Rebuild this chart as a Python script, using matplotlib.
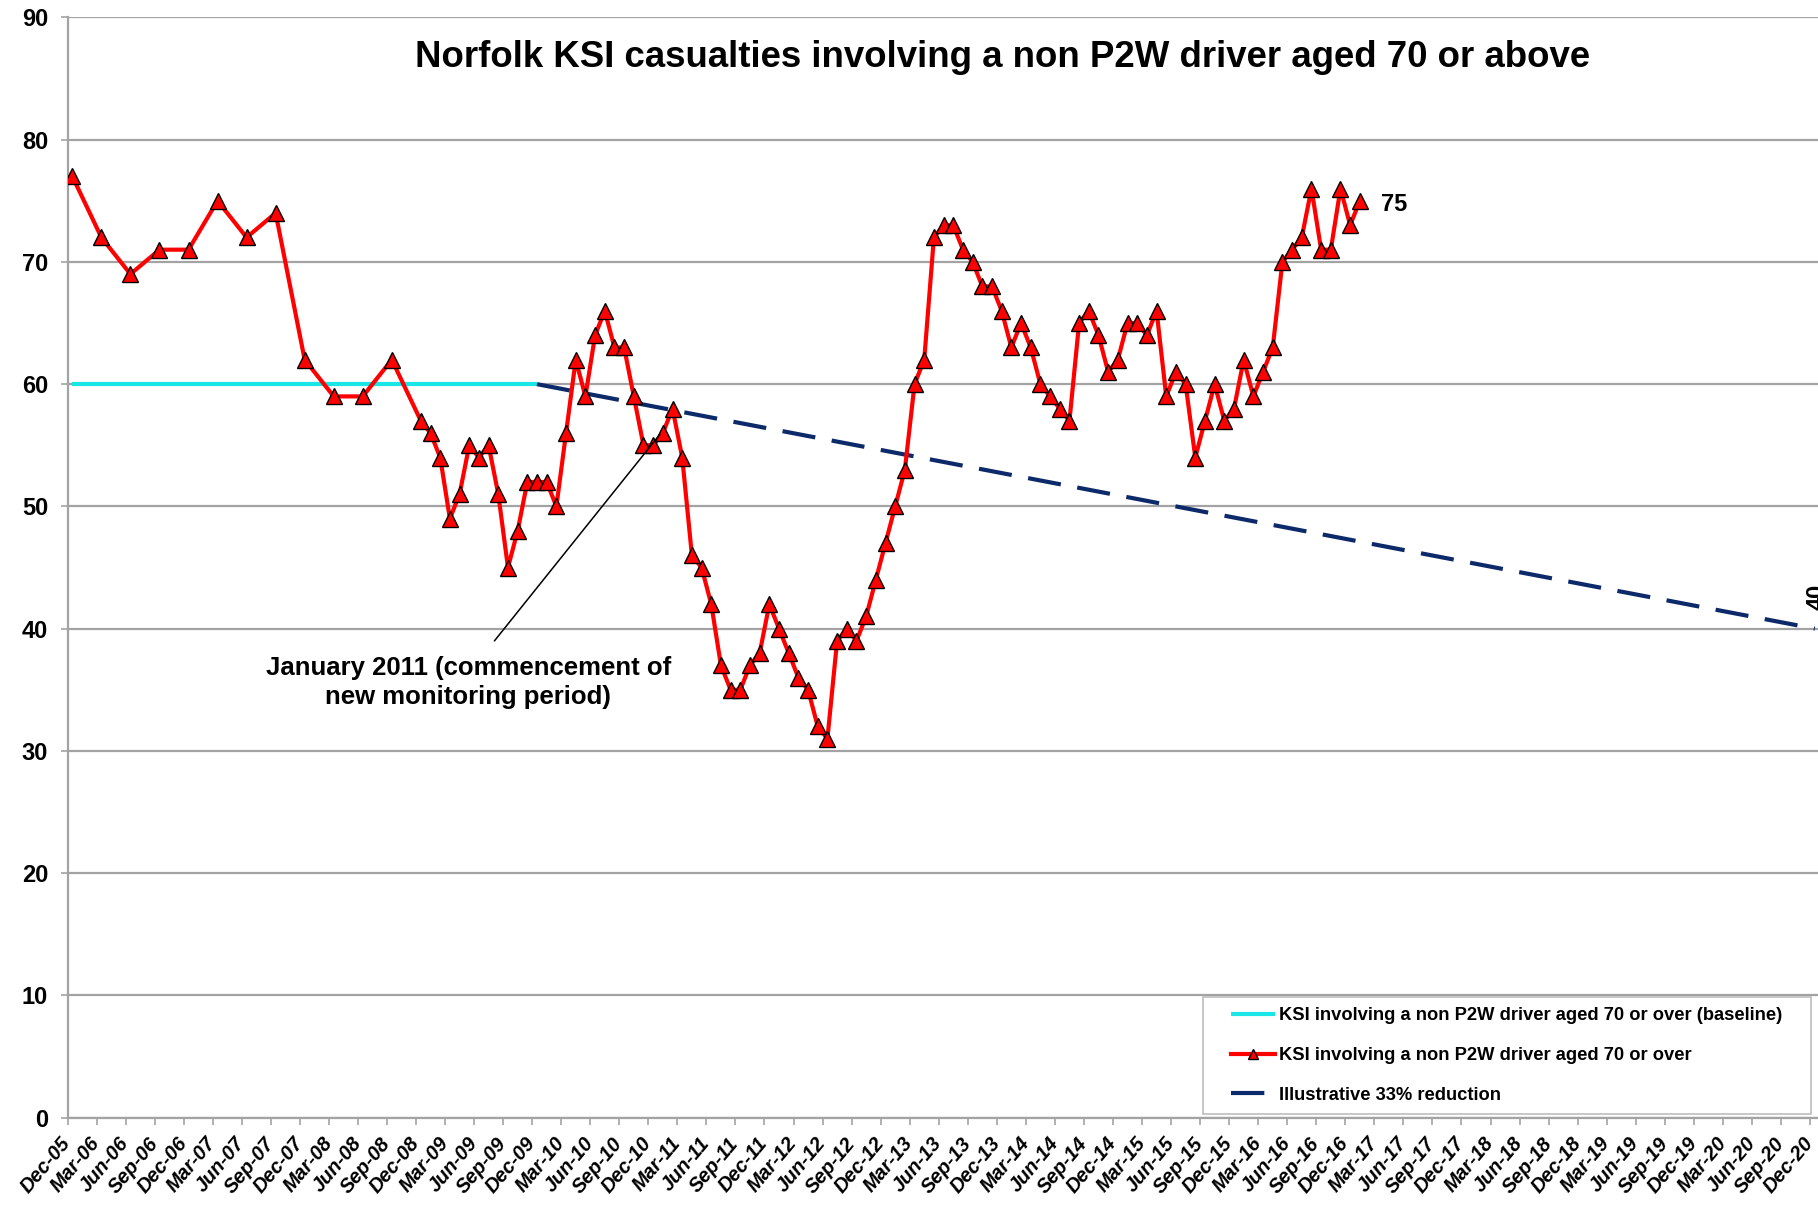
import matplotlib
matplotlib.use("Agg")
import matplotlib.pyplot as plt
import pandas as pd
from matplotlib.patches import Rectangle

plt.rcParams['font.family'] = ['Liberation Sans', 'DejaVu Sans']

# ---------------- data ----------------
title = "Norfolk KSI casualties involving a non P2W driver aged 70 or above"

tick_labels = [
    "Dec-05", "Mar-06", "Jun-06", "Sep-06", "Dec-06", "Mar-07", "Jun-07", "Sep-07",
    "Dec-07", "Mar-08", "Jun-08", "Sep-08", "Dec-08", "Mar-09", "Jun-09", "Sep-09",
    "Dec-09", "Mar-10", "Jun-10", "Sep-10", "Dec-10", "Mar-11", "Jun-11", "Sep-11",
    "Dec-11", "Mar-12", "Jun-12", "Sep-12", "Dec-12", "Mar-13", "Jun-13", "Sep-13",
    "Dec-13", "Mar-14", "Jun-14", "Sep-14", "Dec-14", "Mar-15", "Jun-15", "Sep-15",
    "Dec-15", "Mar-16", "Jun-16", "Sep-16", "Dec-16", "Mar-17", "Jun-17", "Sep-17",
    "Dec-17", "Mar-18", "Jun-18", "Sep-18", "Dec-18", "Mar-19", "Jun-19", "Sep-19",
    "Dec-19", "Mar-20", "Jun-20", "Sep-20", "Dec-20",
]
y_ticks = [0, 10, 20, 30, 40, 50, 60, 70, 80, 90]

# quarterly values Dec-05 .. Sep-08
early_periods = ["2005-12", "2006-03", "2006-06", "2006-09", "2006-12", "2007-03",
                 "2007-06", "2007-09", "2007-12", "2008-03", "2008-06", "2008-09"]
early_values = [77, 72, 69, 71, 71, 75, 72, 74, 62, 59, 59, 62]

# monthly values Dec-08 .. Jan-17
monthly_start = "2008-12"
monthly_end = "2017-01"
monthly_values = [
    57, 56, 54, 49, 51, 55, 54, 55, 51, 45,
    48, 52, 52, 52, 50, 56, 62, 59, 64, 66,
    63, 63, 59, 55, 55, 56, 58, 54, 46, 45,
    42, 37, 35, 35, 37, 38, 42, 40, 38, 36,
    35, 32, 31, 39, 40, 39, 41, 44, 47, 50,
    53, 60, 62, 72, 73, 73, 71, 70, 68, 68,
    66, 63, 65, 63, 60, 59, 58, 57, 65, 66,
    64, 61, 62, 65, 65, 64, 66, 59, 61, 60,
    54, 57, 60, 57, 58, 62, 59, 61, 63, 70,
    71, 72, 76, 71, 71, 76, 73, 75,
]

baseline_periods = ["2005-12", "2009-12"]
baseline_values = [60, 60]
target_periods = ["2009-12", "2020-12"]
target_values = [60, 40]

annotation_period = "2011-01"
annotation_text = "January 2011 (commencement of\nnew monitoring period)"

legend_labels = [
    "KSI involving a non P2W driver aged 70 or over (baseline)",
    "KSI involving a non P2W driver aged 70 or over",
    "Illustrative 33% reduction",
]


def month_pos(p):
    per = pd.Period(p, freq="M")
    return (per.year - 2005) * 12 + (per.month - 12) + 0.5


ksi_periods = early_periods + [str(p) for p in pd.period_range(monthly_start, monthly_end, freq="M")]
ksi_values = early_values + monthly_values
ksi_x = [month_pos(p) for p in ksi_periods]

# ---------------- figure ----------------
W, H = 1818, 1205
fig = plt.figure(figsize=(W / 100, H / 100), dpi=100)
left_px, right_px = 67.5, 1818
bottom_px, top_px = 1117.7, 17.4
ax = fig.add_axes([left_px / W, 1 - bottom_px / H, (right_px - left_px) / W, (bottom_px - top_px) / H])

px_per_month = (1810 - 67.5) / 180.0
ax.set_xlim(0, (right_px - left_px) / px_per_month)
ax.set_ylim(0, 90)

grid_col = "#a3a3a3"
ax.set_yticks(y_ticks)
ax.set_yticklabels([str(v) for v in y_ticks], fontsize=17, fontweight="bold")
ax.yaxis.grid(True, color=grid_col, lw=1.6)
ax.set_axisbelow(True)
ax.tick_params(axis="y", direction="out", length=5, width=1.2, color=grid_col, pad=9)

ax.set_xticks(list(range(0, 181, 3)))
ax.set_xticklabels(tick_labels, fontsize=14.5, fontweight="bold", fontstyle="italic",
                   rotation=50, ha="right", va="center", rotation_mode="anchor")
ax.tick_params(axis="x", direction="out", length=5, width=1.2, color=grid_col, pad=11)

for s in ["top", "right"]:
    ax.spines[s].set_visible(False)
for s in ["left", "bottom"]:
    ax.spines[s].set_color(grid_col)
    ax.spines[s].set_linewidth(1.6)

# series
l_base, = ax.plot([month_pos(p) for p in baseline_periods], baseline_values,
                  color="#19e6e6", lw=3.0, solid_capstyle="butt", zorder=3)
l_target, = ax.plot([month_pos(p) for p in target_periods], target_values,
                    color="#0c2a6a", lw=3.0, dashes=(8, 4), zorder=3, clip_on=False)
l_ksi, = ax.plot(ksi_x, ksi_values, color="#ff0000", lw=3.0, marker="^", ms=11.5,
                 mfc="#ff0000", mec="black", mew=1.0, zorder=4)

# end labels
ax.annotate(str(ksi_values[-1]), xy=(ksi_x[-1], ksi_values[-1]), xytext=(21, -4),
            textcoords="offset pixels", ha="left", va="center",
            fontsize=17, fontweight="bold")
ax.annotate(str(target_values[-1]), xy=(month_pos(target_periods[-1]), target_values[-1]),
            xytext=(-9, 32), textcoords="offset pixels", ha="left", va="center",
            rotation=90, fontsize=17, fontweight="bold", annotation_clip=False)

# annotation
ax.annotate("", xy=(month_pos(annotation_period) - 0.3, 55.9), xytext=(44.1, 39.0),
            arrowprops=dict(arrowstyle="-", lw=1.1, color="black", shrinkA=0, shrinkB=0),
            zorder=5)
ax.text(41.4, 37.8, annotation_text, ha="center", va="top", fontsize=18.5,
        fontweight="bold", linespacing=1.3, zorder=5)

# title
fig.text(1003 / W, 1 - 67 / H, title, ha="center", va="baseline", fontsize=26.4, fontweight="bold")

# legend with manual frame
rect = Rectangle((1203 / W, 1 - 1114 / H), (1811 - 1203) / W, (1114 - 997) / H,
                 transform=fig.transFigure, facecolor="white", edgecolor="#bdbdbd",
                 lw=1.2, zorder=6)
fig.patches.append(rect)
leg = fig.legend([l_base, l_ksi, l_target], legend_labels, loc="upper left",
                 bbox_to_anchor=(1231 / W, 1 - 1007 / H), bbox_transform=fig.transFigure,
                 frameon=False, borderpad=0, borderaxespad=0, handlelength=2.4,
                 handletextpad=0.2, labelspacing=1.25, markerscale=0.6,
                 prop={"size": 13.2, "weight": "bold"})
leg.set_zorder(7)

fig.savefig("out.png", dpi=100)
